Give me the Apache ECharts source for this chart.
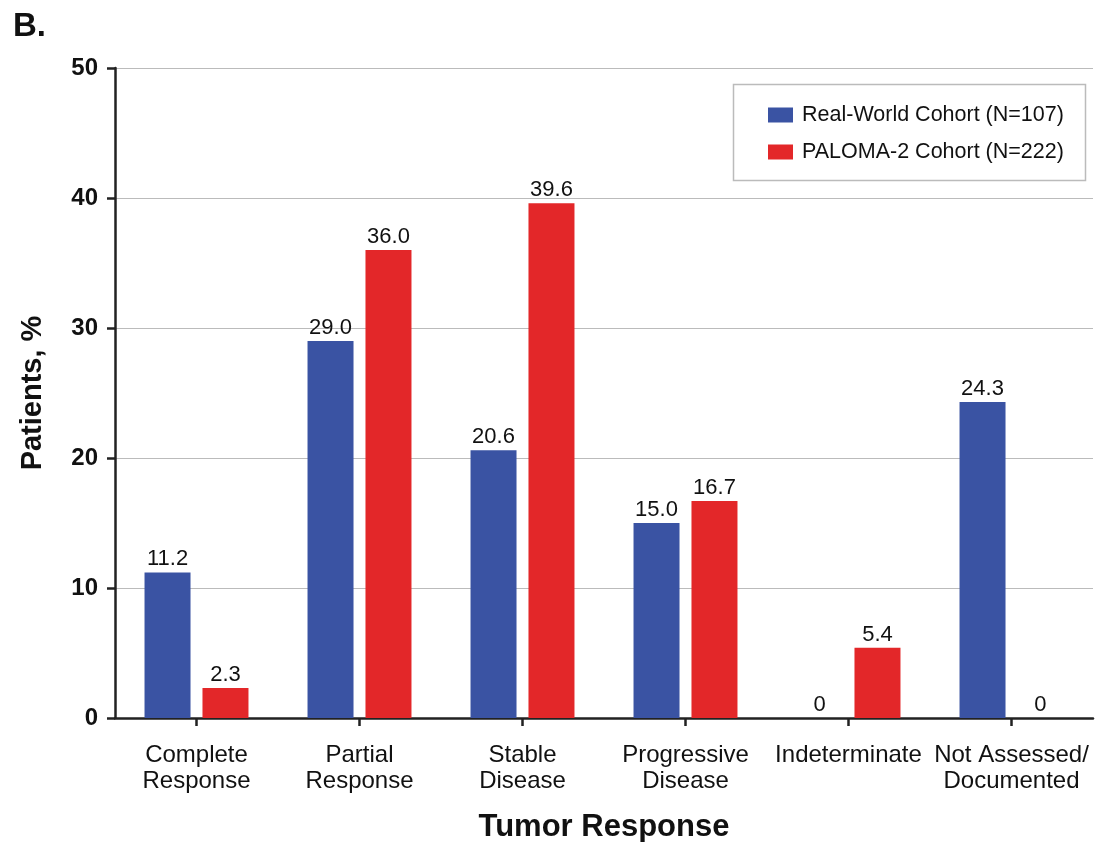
<!DOCTYPE html>
<html><head><meta charset="utf-8">
<script src="https://cdn.jsdelivr.net/npm/echarts@6/dist/echarts.min.js"></script>
<style>html,body{margin:0;padding:0;background:#fff}#c{width:1117px;height:842px}</style>
</head><body><div id="c"></div>
<script>
const categories = ['Complete\nResponse','Partial\nResponse','Stable\nDisease','Progressive\nDisease','Indeterminate','Not Assessed/\nDocumented'];
const realWorld = [11.2, 29.0, 20.6, 15.0, 0, 24.3];
const paloma2 = [2.3, 36.0, 39.6, 16.7, 5.4, 0];
const seriesNames = ['Real-World Cohort (N=107)', 'PALOMA-2 Cohort (N=222)'];
const yTicks = [0, 10, 20, 30, 40, 50];

const FONT = 'Arial, "Liberation Sans", sans-serif';
const chart = echarts.init(document.getElementById('c'), null, {renderer:'canvas'});
const fmt = p => p.value === 0 ? '0' : p.value.toFixed(1);
const labelCfg = {show:true, position:'top', formatter: fmt, fontFamily: FONT, fontSize: 22, color:'#111', distance: 2};
chart.setOption({
  animation:false,
  backgroundColor:'#fff',
  graphic:[
    {type:'text', left:13, top:10, style:{text:'B.', font:'bold 33px Arial, "Liberation Sans", sans-serif', fill:'#111'}},
    {type:'rect', shape:{x:733.5, y:84.5, width:352, height:96}, style:{fill:'#fff', stroke:'#bbb', lineWidth:1.5}, z:0}
  ],
  legend:{
    orient:'vertical', left:763, top:99, itemWidth:25, itemHeight:15, itemGap:15, icon:'rect',
    textStyle:{fontFamily:FONT, fontSize:21.5, color:'#111', padding:[0,0,0,4]},
    data: seriesNames, z:5
  },
  grid:{left:115, right:24, top:68, bottom:124, containLabel:false, outerBoundsMode:'none'},
  xAxis:{
    type:'category', data:categories,
    axisLine:{lineStyle:{color:'#222', width:2.5}},
    axisTick:{show:true, alignWithLabel:true, length:8, lineStyle:{color:'#222', width:2.5}},
    axisLabel:{fontFamily:FONT, fontSize:24, color:'#111', lineHeight:26, margin:24, interval:0},
    name:'Tumor Response', nameLocation:'middle', nameGap:94,
    nameTextStyle:{fontFamily:FONT, fontSize:31, fontWeight:'bold', color:'#111'}
  },
  yAxis:{
    type:'value', min:0, max:50, interval:10,
    axisLine:{show:true, lineStyle:{color:'#222', width:2.5}},
    axisTick:{show:true, length:8, lineStyle:{color:'#222', width:2.5}},
    axisLabel:{fontFamily:FONT, fontSize:24, fontWeight:'bold', color:'#111', margin:17,
      formatter: v => yTicks.includes(v) ? String(v) : ''},
    splitLine:{show:true, lineStyle:{color:'#bbb', width:1.2}},
    name:'Patients, %', nameLocation:'middle', nameGap:68,
    nameTextStyle:{fontFamily:FONT, fontSize:29, fontWeight:'bold', color:'#111'}
  },
  series:[
    {name:seriesNames[0], type:'bar', data:realWorld, barWidth:46, barGap:'26%', itemStyle:{color:'#3a53a3'}, label:labelCfg},
    {name:seriesNames[1], type:'bar', data:paloma2, barWidth:46, barGap:'26%', itemStyle:{color:'#e32729'}, label:labelCfg}
  ]
});
</script></body></html>
